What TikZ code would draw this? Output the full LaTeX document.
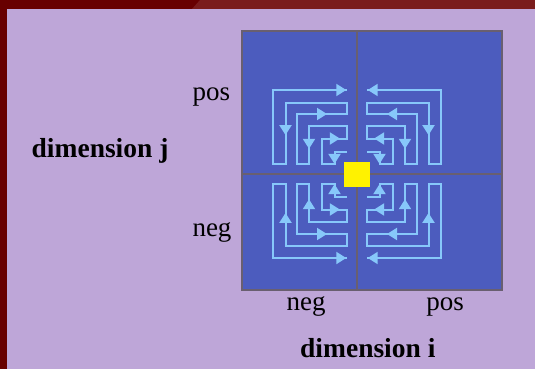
\documentclass[tikz,border=0pt]{standalone}
\usepackage{fontspec}
\setmainfont{Liberation Serif}
\usetikzlibrary{arrows.meta,decorations.markings}
\definecolor{bgl}{RGB}{190,166,216}
\definecolor{darkred}{RGB}{104,0,0}
\definecolor{redtex}{RGB}{122,28,28}
\definecolor{boxblue}{RGB}{76,92,190}
\definecolor{boxedge}{RGB}{105,95,112}
\definecolor{spiralc}{RGB}{135,200,250}
\tikzset{
  spir/.style={color=spiralc, line width=2pt, line join=miter},
  arr/.style={postaction={decorate}, decoration={markings, mark=at position #1 with {\arrow{Triangle[length=10pt,width=12pt]}}}},
  lbl/.style={font=\fontsize{27}{30}\selectfont, text=black, inner sep=0pt, anchor=base},
  dimlbl/.style={font=\bfseries\fontsize{27.5}{31}\selectfont, text=black, inner sep=0pt, anchor=base west},
}
\newcommand\quadspiral{%
  \draw[spir] (10,22.5) -- (22.5,22.5) -- (22.5,10) -- (35.5,10) -- (35.5,35.5) -- (10,35.5)
    -- (10,48) -- (48,48) -- (48,10) -- (60,10) -- (60,60) -- (10,60)
    -- (10,71.5) -- (71.5,71.5) -- (71.5,10) -- (84,10) -- (84,84) -- (10,84);
  \draw[spir,arr=0.99] (22.5,22.5) -- (22.5,10);
  \draw[spir,arr=0.72] (35.5,35.5) -- (10,35.5);
  \draw[spir,arr=0.6] (48,48) -- (48,10);
  \draw[spir,arr=0.6] (60,60) -- (10,60);
  \draw[spir,arr=0.53] (71.5,71.5) -- (71.5,10);
  \draw[spir,arr=0.99] (84,84) -- (10,84);
}
\begin{document}
\begin{tikzpicture}[x=1pt,y=-1pt]
  \useasboundingbox (0,0) rectangle (535,369);
  \fill[bgl] (0,0) rectangle (535,369);
  \fill[darkred] (0,0) rectangle (535,9);
  \fill[redtex] (200,0) -- (535,0) -- (535,9) -- (192,9) -- cycle;
  \fill[darkred] (0,0) rectangle (7,369);
  % box
  \draw[boxedge, line width=2pt, fill=boxblue] (241.5,31) rectangle (501.5,289.5);
  \draw[boxedge, line width=2pt] (357,31) -- (357,289.5);
  \draw[boxedge, line width=2pt] (241.5,174) -- (501.5,174);
  % spirals
  \begin{scope}[shift={(357,174)}, xscale=-1, yscale=-1]\quadspiral\end{scope}
  \begin{scope}[shift={(357,174)}, xscale=1, yscale=-1]\quadspiral\end{scope}
  \begin{scope}[shift={(357,174)}, xscale=-1, yscale=1]\quadspiral\end{scope}
  \begin{scope}[shift={(357,174)}, xscale=1, yscale=1]\quadspiral\end{scope}
  % centre
  \node[fill=yellow, minimum size=25.5pt, inner sep=0pt] (origin) at (357,174.5) {};
  % labels
  \node[lbl] (jpos) at (211.5,100.5) {pos};
  \node[lbl] (jneg) at (212,236.5) {neg};
  \node[dimlbl] (dimj) at (31.5,157.5) {dimension j};
  \node[lbl] (ineg) at (306,310) {neg};
  \node[lbl] (ipos) at (445,310) {pos};
  \node[dimlbl] (dimi) at (300,357.5) {dimension i};
\end{tikzpicture}
\end{document}
